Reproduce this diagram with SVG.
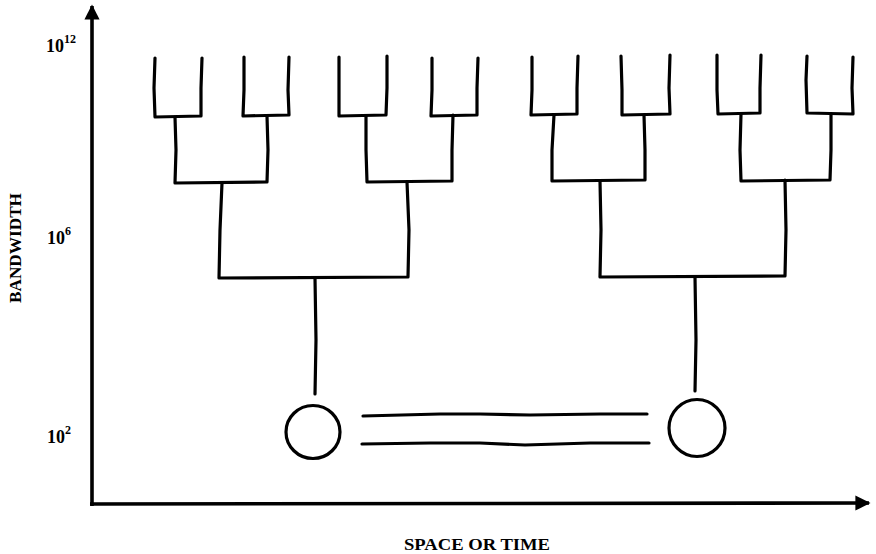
<svg xmlns="http://www.w3.org/2000/svg" width="876" height="554" viewBox="0 0 876 554">
  <style>
    .ink { fill: none; stroke: #000; stroke-width: 3.2; stroke-linecap: round; stroke-linejoin: round; }
    .axis { fill: none; stroke: #000; stroke-width: 3.6; }
    .lbl { font-family: "Liberation Serif", "DejaVu Serif", serif; font-weight: bold; fill: #000; }
  </style>
  <defs>
    <marker id="head" viewBox="0 0 10 10" refX="9" refY="5" markerWidth="5.5" markerHeight="4.2" orient="auto" markerUnits="strokeWidth">
      <path d="M0 0 L10 5 L0 10 Z" fill="#000"/>
    </marker>
  </defs>

  <!-- axes -->
  <g id="axes">
    <path class="axis" d="M92 506 L92 6" marker-end="url(#head)"/>
    <path class="axis" d="M90 504 L869 503" marker-end="url(#head)"/>
  </g>

  <!-- axis labels -->
  <g id="labels">
    <text class="lbl" x="46" y="52" font-size="18">10<tspan font-size="12" dy="-9">12</tspan></text>
    <text class="lbl" x="47" y="244" font-size="18">10<tspan font-size="12" dy="-9">6</tspan></text>
    <text class="lbl" x="47" y="443" font-size="18">10<tspan font-size="12" dy="-9">2</tspan></text>
    <text class="lbl" transform="translate(21 248) rotate(-90)" text-anchor="middle" font-size="16" textLength="110" lengthAdjust="spacingAndGlyphs">BANDWIDTH</text>
    <text class="lbl" x="477" y="550" text-anchor="middle" font-size="16" textLength="146" lengthAdjust="spacingAndGlyphs">SPACE OR TIME</text>
  </g>

  <!-- branching connectors -->
  <g id="connectors">
    <!-- left tree: leaves -->
    <path class="ink" d="M155 58 L154 88 L155 117 L201 116 L201 88 L202 58"/>
    <path class="ink" d="M244 57 L244 90 L243 116 L289 115 L288 90 L289 57"/>
    <path class="ink" d="M339 57 L339 88 L339 116 L386 115 L387 88 L387 56"/>
    <path class="ink" d="M432 58 L432 90 L431 116 L477 115 L477 88 L478 58"/>
    <!-- left tree: second level -->
    <path class="ink" d="M175 117 L176 150 L175 183 L267 182 L268 150 L267 116"/>
    <path class="ink" d="M366 116 L366 150 L367 182 L452 181 L452 150 L453 115"/>
    <!-- left tree: third level and trunk -->
    <path class="ink" d="M222 183 L220 230 L219 278 L408 277 L409 230 L407 182"/>
    <path class="ink" d="M315 278 L316 340 L315 394"/>

    <!-- right tree: leaves -->
    <path class="ink" d="M532 57 L532 90 L531 115 L577 114 L577 88 L578 56"/>
    <path class="ink" d="M621 56 L622 90 L622 115 L670 114 L669 88 L670 55"/>
    <path class="ink" d="M717 55 L717 90 L718 114 L760 113 L760 88 L761 55"/>
    <path class="ink" d="M807 56 L806 80 L807 113 L853 114 L852 88 L853 57"/>
    <!-- right tree: second level -->
    <path class="ink" d="M554 115 L552 150 L552 181 L645 180 L645 150 L644 115"/>
    <path class="ink" d="M741 114 L740 150 L741 181 L830 180 L831 150 L831 114"/>
    <!-- right tree: third level and trunk -->
    <path class="ink" d="M600 181 L601 230 L600 277 L785 276 L786 230 L785 180"/>
    <path class="ink" d="M695 277 L696 340 L695 391"/>

    <!-- double link between the two ends -->
    <path class="ink" d="M363 416 L440 414 L480 414 L530 415 L600 414 L647 414"/>
    <path class="ink" d="M362 444 L430 443 L480 443 L525 445 L590 443 L649 443"/>
  </g>

  <!-- end nodes -->
  <g id="node-left">
    <ellipse class="ink" cx="313" cy="432" rx="27" ry="26.5"/>
  </g>
  <g id="node-right">
    <ellipse class="ink" cx="697" cy="428" rx="28" ry="28.5"/>
  </g>
</svg>
